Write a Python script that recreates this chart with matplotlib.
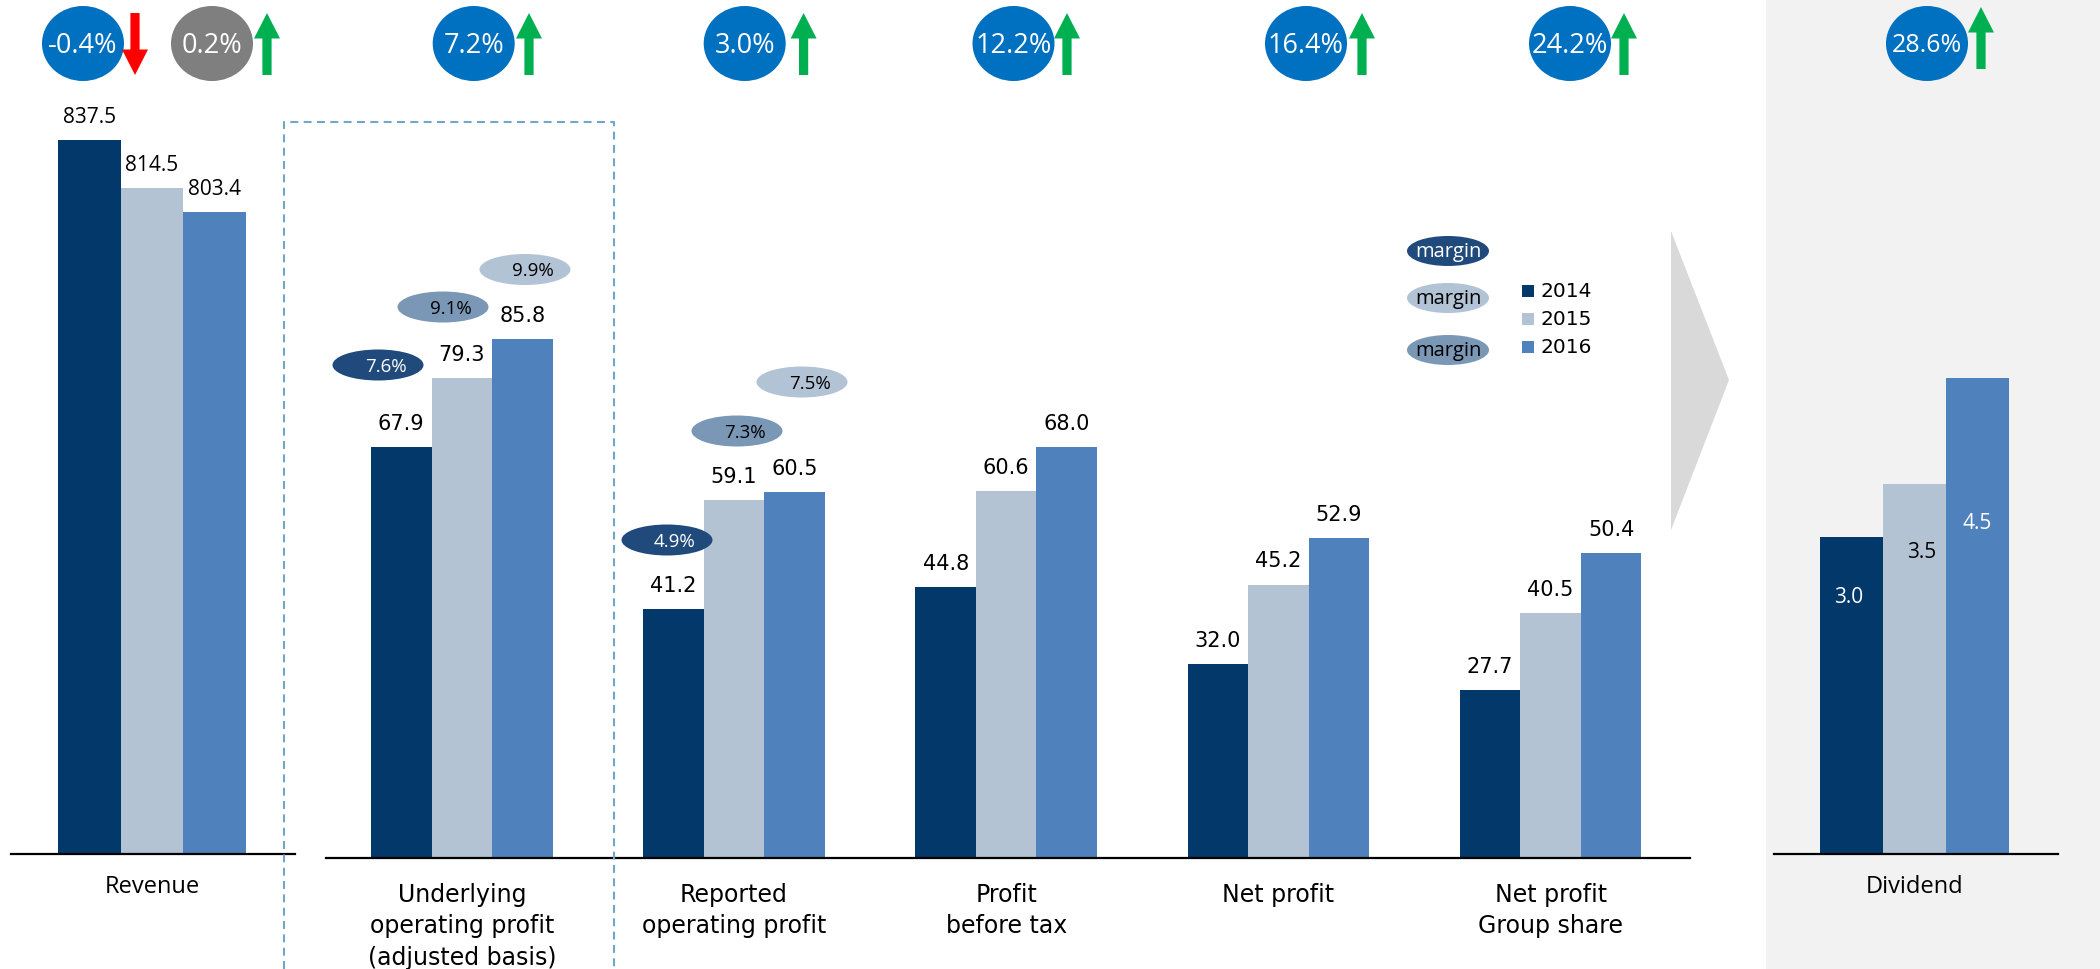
import matplotlib
matplotlib.use("Agg")
import matplotlib.pyplot as plt
from matplotlib.patches import Ellipse, Polygon, Rectangle

# ---------------- data ----------------
years = ["2014", "2015", "2016"]
bar_colors = ["#03386a", "#b3c3d3", "#4f81bd"]

revenue = [837.5, 814.5, 803.4]

profit_categories = [
    "Underlying\noperating profit\n(adjusted basis)",
    "Reported\noperating profit",
    "Profit\nbefore tax",
    "Net profit",
    "Net profit\nGroup share",
]
profit_2014 = [67.9, 41.2, 44.8, 32.0, 27.7]
profit_2015 = [79.3, 59.1, 60.6, 45.2, 40.5]
profit_2016 = [85.8, 60.5, 68.0, 52.9, 50.4]

dividend = [3.0, 3.5, 4.5]

margin_2014 = [7.6, 4.9]
margin_2015 = [9.1, 7.3]
margin_2016 = [9.9, 7.5]

growth_labels = ["-0.4%", "0.2%", "7.2%", "3.0%", "12.2%", "16.4%", "24.2%", "28.6%"]
growth_up = [False, True, True, True, True, True, True, True]

# ---------------- layout helpers ----------------
W, H = 2100, 970
fig = plt.figure(figsize=(W / 100, H / 100), dpi=100)
fig.patch.set_facecolor("white")

SANS = "DejaVu Sans"
HUMAN = ["Open Sans", "DejaVu Sans"]
UNIT = 272.2  # pixels per category slot


def px_axes(x0, x1, y_bottom, y_top, z):
    ax = fig.add_axes([x0 / W, 1 - y_bottom / H, (x1 - x0) / W, (y_bottom - y_top) / H])
    ax.set_zorder(z)
    return ax


# background layer: grey dividend panel and chevron
bg = px_axes(0, W, H, 0, 0)
bg.set_xlim(0, W)
bg.set_ylim(H, 0)
bg.axis("off")
bg.add_patch(Rectangle((1766, 0), W - 1766, H, color="#f2f2f2", lw=0))
bg.add_patch(Polygon([(1671, 232), (1729, 381), (1671, 531)], closed=True,
                     color="#d9d9d9", lw=0))


def style_bar_axes(ax):
    ax.set_facecolor("none")
    for s in ["top", "left", "right"]:
        ax.spines[s].set_visible(False)
    ax.spines["bottom"].set_linewidth(1.6)
    ax.spines["bottom"].set_color("black")
    ax.set_xticks([])
    ax.set_yticks([])


offsets = [-1, 0, 1]

# ---------------- revenue panel ----------------
rev_ax = px_axes(11, 295, 855, 100, 1)
rev_center = 152
rev_ax.set_xlim((11 - rev_center) / UNIT, (295 - rev_center) / UNIT)
rev_ax.set_ylim(498, 498 + 755 / 2.103)
style_bar_axes(rev_ax)
rw = 62.8 / UNIT
for k, (v, c) in enumerate(zip(revenue, bar_colors)):
    rev_ax.bar(offsets[k] * rw, v - 498, bottom=498, width=rw, color=c, lw=0)
    rev_ax.annotate(f"{v:.1f}", (offsets[k] * rw, v), xytext=(0, 13),
                    textcoords="offset points", ha="center", va="baseline",
                    fontsize=15, family=HUMAN, color="black")

# ---------------- profit panel ----------------
main_ax = px_axes(326, 1690, 859, 100, 1)
g0 = 461.8
main_ax.set_xlim((326 - g0) / UNIT, (1690 - g0) / UNIT)
main_ax.set_ylim(0, (859 - 100) / 6.05)
style_bar_axes(main_ax)
bw = 60.5 / UNIT
for k, (series, c) in enumerate(zip([profit_2014, profit_2015, profit_2016], bar_colors)):
    for i, v in enumerate(series):
        x = i + offsets[k] * bw
        main_ax.bar(x, v, width=bw, color=c, lw=0)
        main_ax.annotate(f"{v:.1f}", (x, v), xytext=(0, 13),
                         textcoords="offset points", ha="center", va="baseline",
                         fontsize=15, family=SANS, color="black")

# ---------------- dividend panel ----------------
div_ax = px_axes(1774, 2058, 855, 100, 1)
dc = 1914.5
div_ax.set_xlim((1774 - dc) / UNIT, (2058 - dc) / UNIT)
div_ax.set_ylim(0, 755 / 105.7)
style_bar_axes(div_ax)
dw = 63 / UNIT
div_label_drop = [0.56, 0.64, 1.36]
div_label_dx = [-0.012, 0.027, 0.0]
div_label_col = ["white", "black", "white"]
for k, (v, c) in enumerate(zip(dividend, bar_colors)):
    x = offsets[k] * dw
    div_ax.bar(x, v, width=dw, color=c, lw=0)
    div_ax.text(x + div_label_dx[k], v - div_label_drop[k], f"{v:.1f}",
                ha="center", va="center", fontsize=15, family=HUMAN,
                color=div_label_col[k])

# ---------------- foreground overlay ----------------
fg = px_axes(0, W, H, 0, 2)
fg.set_facecolor("none")
fg.set_xlim(0, W)
fg.set_ylim(H, 0)
fg.axis("off")

# dashed frame around the underlying operating profit group
dash_col = "#6ea7c7"
dash_ls = (0, (3.8, 2.6))
fg.plot([284, 284, 614, 614], [H, 123, 123, H], color=dash_col, lw=1.5, ls=dash_ls)

# category labels
def line_label(x, y0, text, fam, size, step):
    for j, line in enumerate(text.split("\n")):
        fg.text(x, y0 + j * step, line, ha="center", va="baseline",
                fontsize=size, family=fam, color="black")

line_label(rev_center, 893, "Revenue", HUMAN, 17, 31)
for i, cat in enumerate(profit_categories):
    line_label(g0 + i * UNIT, 902, cat, SANS, 17, 31.5)
line_label(dc, 893, "Dividend", HUMAN, 17, 31)

# growth badges with arrows
badge_x = [83, 212, 473.7, 744.7, 1013.5, 1306, 1570, 1927]
arrow_x = [135, 267, 529, 803.6, 1067, 1362, 1624, 1981]
badge_col = ["#0070c0", "#7f7f7f"] + ["#0070c0"] * 6
for i, lab in enumerate(growth_labels):
    last = i == len(growth_labels) - 1
    fg.add_patch(Ellipse((badge_x[i], 44.5), 82, 75, color=badge_col[i], lw=0))
    fg.text(badge_x[i], 46, lab, ha="center", va="center",
            fontsize=18 if last else 19.5, family=HUMAN, color="white")
    ax_ = arrow_x[i]
    top, bot = (8, 70) if last else (14, 76)
    hw, sw, hl = 13, 4.6, 25.5
    if growth_up[i]:
        pts = [(ax_, top), (ax_ + hw, top + hl), (ax_ + sw, top + hl), (ax_ + sw, bot),
               (ax_ - sw, bot), (ax_ - sw, top + hl), (ax_ - hw, top + hl)]
        col = "#00b050"
    else:
        pts = [(ax_, bot), (ax_ + hw, bot - hl), (ax_ + sw, bot - hl), (ax_ + sw, top),
               (ax_ - sw, top), (ax_ - sw, bot - hl), (ax_ - hw, bot - hl)]
        col = "#ff0000"
    fg.add_patch(Polygon(pts, closed=True, color=col, lw=0))

# margin bubbles
bubble_cols = ["#214a7c", "#7a98b6", "#b2c3d5"]
bubble_txt = ["white", "black", "black"]
bubble_pos = [
    [(378, 366), (667, 541)],
    [(443, 308), (737, 432)],
    [(525, 270.5), (802, 383)],
]
for k, margins in enumerate([margin_2014, margin_2015, margin_2016]):
    for j, m in enumerate(margins):
        cx, cy = bubble_pos[k][j]
        fg.add_patch(Ellipse((cx, cy), 91, 31, color=bubble_cols[k], lw=0))
        fg.text(cx + 8, cy + 1, f"{m:.1f}%", ha="center", va="center",
                fontsize=13.5, family=HUMAN, color=bubble_txt[k])

# legend: margin bubbles and year swatches
leg_bubbles = [(252, "#214a7c", "white"), (299, "#b2c3d5", "black"), (351, "#7a98b6", "black")]
for cy, col, tcol in leg_bubbles:
    fg.add_patch(Ellipse((1448, cy), 82, 30, color=col, lw=0))
    fg.text(1448, cy, "margin", ha="center", va="center", fontsize=14.5,
            family=HUMAN, color=tcol)
for k, (yr, col) in enumerate(zip(years, bar_colors)):
    cy = 292 + 28 * k
    fg.add_patch(Rectangle((1522, cy - 6), 12, 12, color=col, lw=0))
    fg.text(1540, cy, yr, ha="left", va="center", fontsize=14.5, family=SANS,
            color="black")

fig.savefig("out.png", dpi=100, facecolor="white")
